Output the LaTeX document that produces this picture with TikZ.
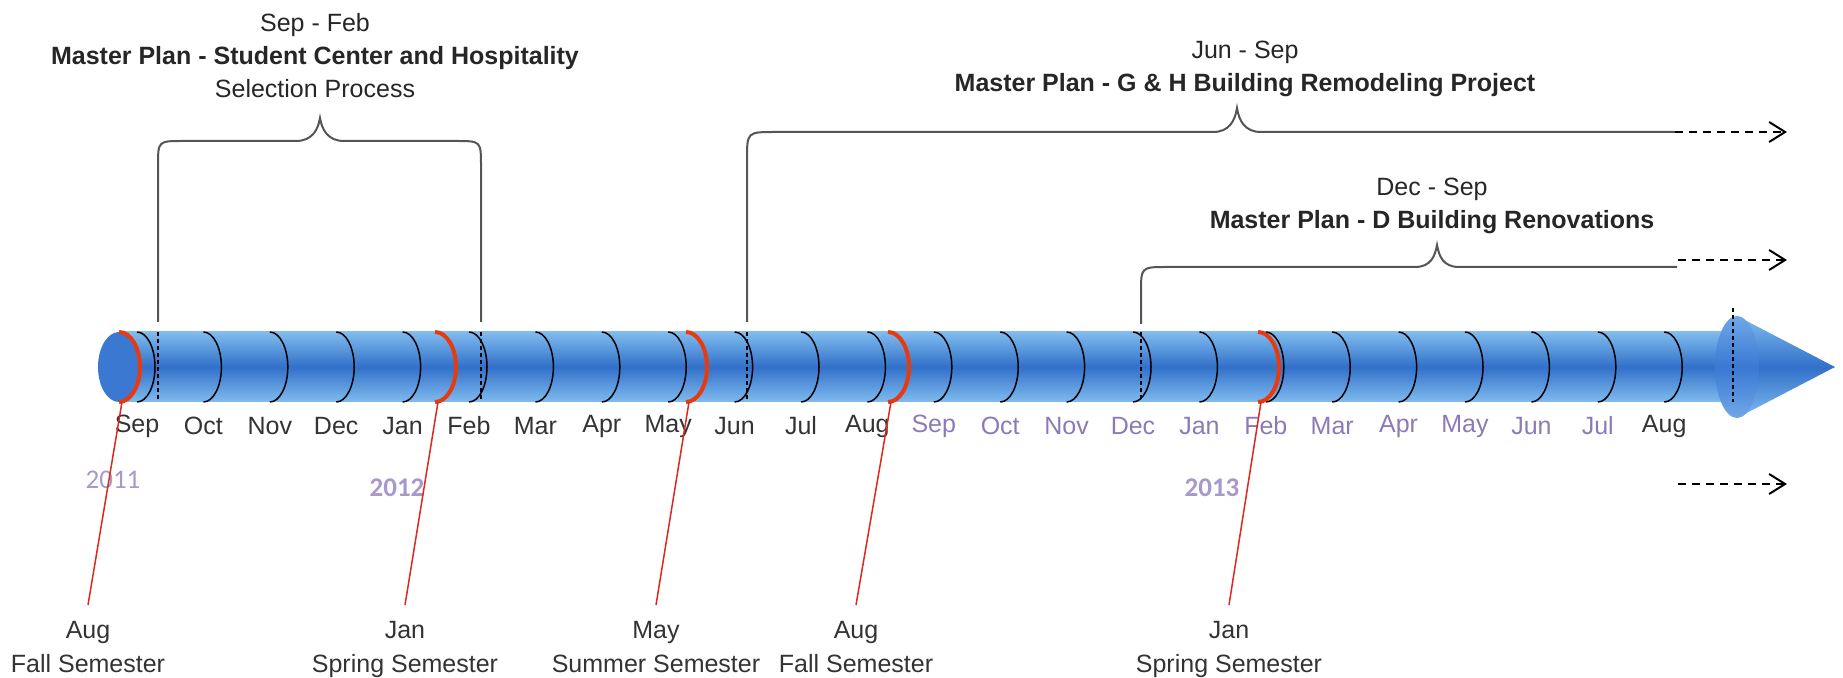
\documentclass[tikz,border=0pt]{standalone}
\usepackage{fontspec}
\setmainfont{Liberation Sans}
\newfontfamily\yearfont{Carlito}
\usetikzlibrary{arrows.meta}
\definecolor{tube-light}{RGB}{128,188,238}
\definecolor{tube-dark}{RGB}{50,112,202}
\definecolor{tube-end}{RGB}{58,120,210}
\definecolor{flange-light}{RGB}{112,168,232}
\definecolor{semester-red}{RGB}{220,40,30}
\definecolor{arc-red}{RGB}{232,58,15}
\definecolor{month-old}{RGB}{51,51,51}
\definecolor{month-new}{RGB}{140,122,182}
\definecolor{year-col}{RGB}{168,152,204}
\definecolor{brace-gray}{RGB}{85,85,85}
\tikzset{
    month-arc/.style = {draw=black, line width=0.75pt},
    semester-arc/.style = {draw=arc-red, line width=2pt},
    brace-line/.style = {draw=brace-gray, line width=1pt},
    cut-line/.style = {draw=black, line width=0.6pt, dash pattern=on 2pt off 1.5pt},
    month-label/.style = {text=month-old, font=\fontsize{12.5}{15}\selectfont},
    semester-label/.style = {text=month-old, font=\fontsize{12.5}{17}\selectfont, align=center, anchor=north, inner xsep=3pt, inner ysep=8pt},
    semester-line/.style = {draw=semester-red, line width=0.75pt},
    year-label/.style = {text=year-col, font=\yearfont\fontsize{13.5}{16}\selectfont},
    plan-title/.style = {text=black!85, font=\fontsize{12.5}{16.5}\selectfont, align=center},
    carry-on/.style = {draw=black, line width=1pt, dash pattern=on 4pt off 3pt, -{Straight Barb[length=8pt,width=10pt]}},
    tube-shade/.style = {top color=tube-light, bottom color=tube-light, middle color=tube-dark},
}

\begin{document}
\begin{tikzpicture}[x=0.5pt, y=-0.5pt]
\path[use as bounding box] (0,0) rectangle (1843,678);

% tube
\shade[tube-shade] (119,332) rectangle (1730,402);
\fill[tube-end] (119,367) ellipse [x radius=21, y radius=35];

% month rings and names
\foreach \m [count=\i from 0] in {Sep,Oct,Nov,Dec,Jan,Feb,Mar,Apr,May,Jun,Jul,Aug,Sep,Oct,Nov,Dec,Jan,Feb,Mar,Apr,May,Jun,Jul,Aug} {
    \pgfmathsetmacro\xm{137+66.4*\i}
    \draw[month-arc] (\xm,332) arc[start angle=-90, end angle=90, x radius=18, y radius=35];
    \node[month-label] (month-\i) at (\xm,426) {\ifnum\i>11 \ifnum\i<23 \color{month-new}\fi\fi\m};
}

% span cuts
\foreach \xc in {158,481,747,1141}
    \draw[cut-line] (\xc,332) -- (\xc,402);

% arrow head
\shade[tube-shade] (1737,316) -- (1835,367) -- (1737,418) -- cycle;
\shade[top color=flange-light, bottom color=flange-light, middle color=tube-end] (1737,367) ellipse [x radius=22, y radius=51];
\draw[cut-line] (1733,308) -- (1733,402);

% years
\node[year-label] (year-2011) at (113,480) {2011};
\node[year-label] (year-2012) at (397,488) {\bfseries 2012};
\node[year-label] (year-2013) at (1212,488) {\bfseries 2013};

% semesters
\foreach \xr/\xl/\nm/\mo/\sem in {119/88/aug11/Aug/Fall, 435/405/jan12/Jan/Spring, 686/656/may12/May/Summer, 888/856/aug12/Aug/Fall, 1258/1229/jan13/Jan/Spring} {
    \draw[semester-arc] (\xr,332) arc[start angle=-90, end angle=90, x radius=21, y radius=35];
    \coordinate (\nm-foot) at (\xr+3,402);
    \node[semester-label] (\nm) at (\xl,605) {\mo\\\sem{} Semester};
    \draw[semester-line] (\nm-foot) -- (\nm.north);
}

% student center brace
\draw[brace-line] (158,322) -- (158,166) .. controls (158,141) .. (183,141) -- (296,141)
    .. controls (312,141) and (318,130) .. (320,118) .. controls (322,130) and (328,141) .. (344,141)
    -- (456,141) .. controls (481,141) .. (481,166) -- (481,322);
\node[plan-title] (plan-sc) at (315,56) {Sep - Feb\\\textbf{Master Plan - Student Center and Hospitality}\\Selection Process};

% G & H brace
\coordinate (gh-end) at (1675,132);
\coordinate (gh-next) at (1787,132);
\draw[brace-line] (747,322) -- (747,160) .. controls (747,132) .. (775,132) -- (1213,132)
    .. controls (1229,132) and (1235,121) .. (1237,108) .. controls (1239,121) and (1245,132) .. (1261,132) -- (gh-end);
\draw[carry-on] (gh-end) -- (gh-next);
\node[plan-title] (plan-gh) at (1245,69) {Jun - Sep\\\textbf{Master Plan - G \& H Building Remodeling Project}};

% D building brace
\coordinate (d-end) at (1677,267);
\coordinate (d-from) at (1678,260);
\coordinate (d-next) at (1787,260);
\draw[brace-line] (1141,324) -- (1141,293) .. controls (1141,267) .. (1167,267) -- (1415,267)
    .. controls (1431,267) and (1435,256) .. (1437,245) .. controls (1439,256) and (1443,267) .. (1459,267) -- (d-end);
\draw[carry-on] (d-from) -- (d-next);
\node[plan-title] (plan-d) at (1432,206) {Dec - Sep\\\textbf{Master Plan - D Building Renovations}};

% lower carry-on
\coordinate (low-from) at (1678,484);
\coordinate (low-next) at (1787,484);
\draw[carry-on] (low-from) -- (low-next);
\end{tikzpicture}
\end{document}
